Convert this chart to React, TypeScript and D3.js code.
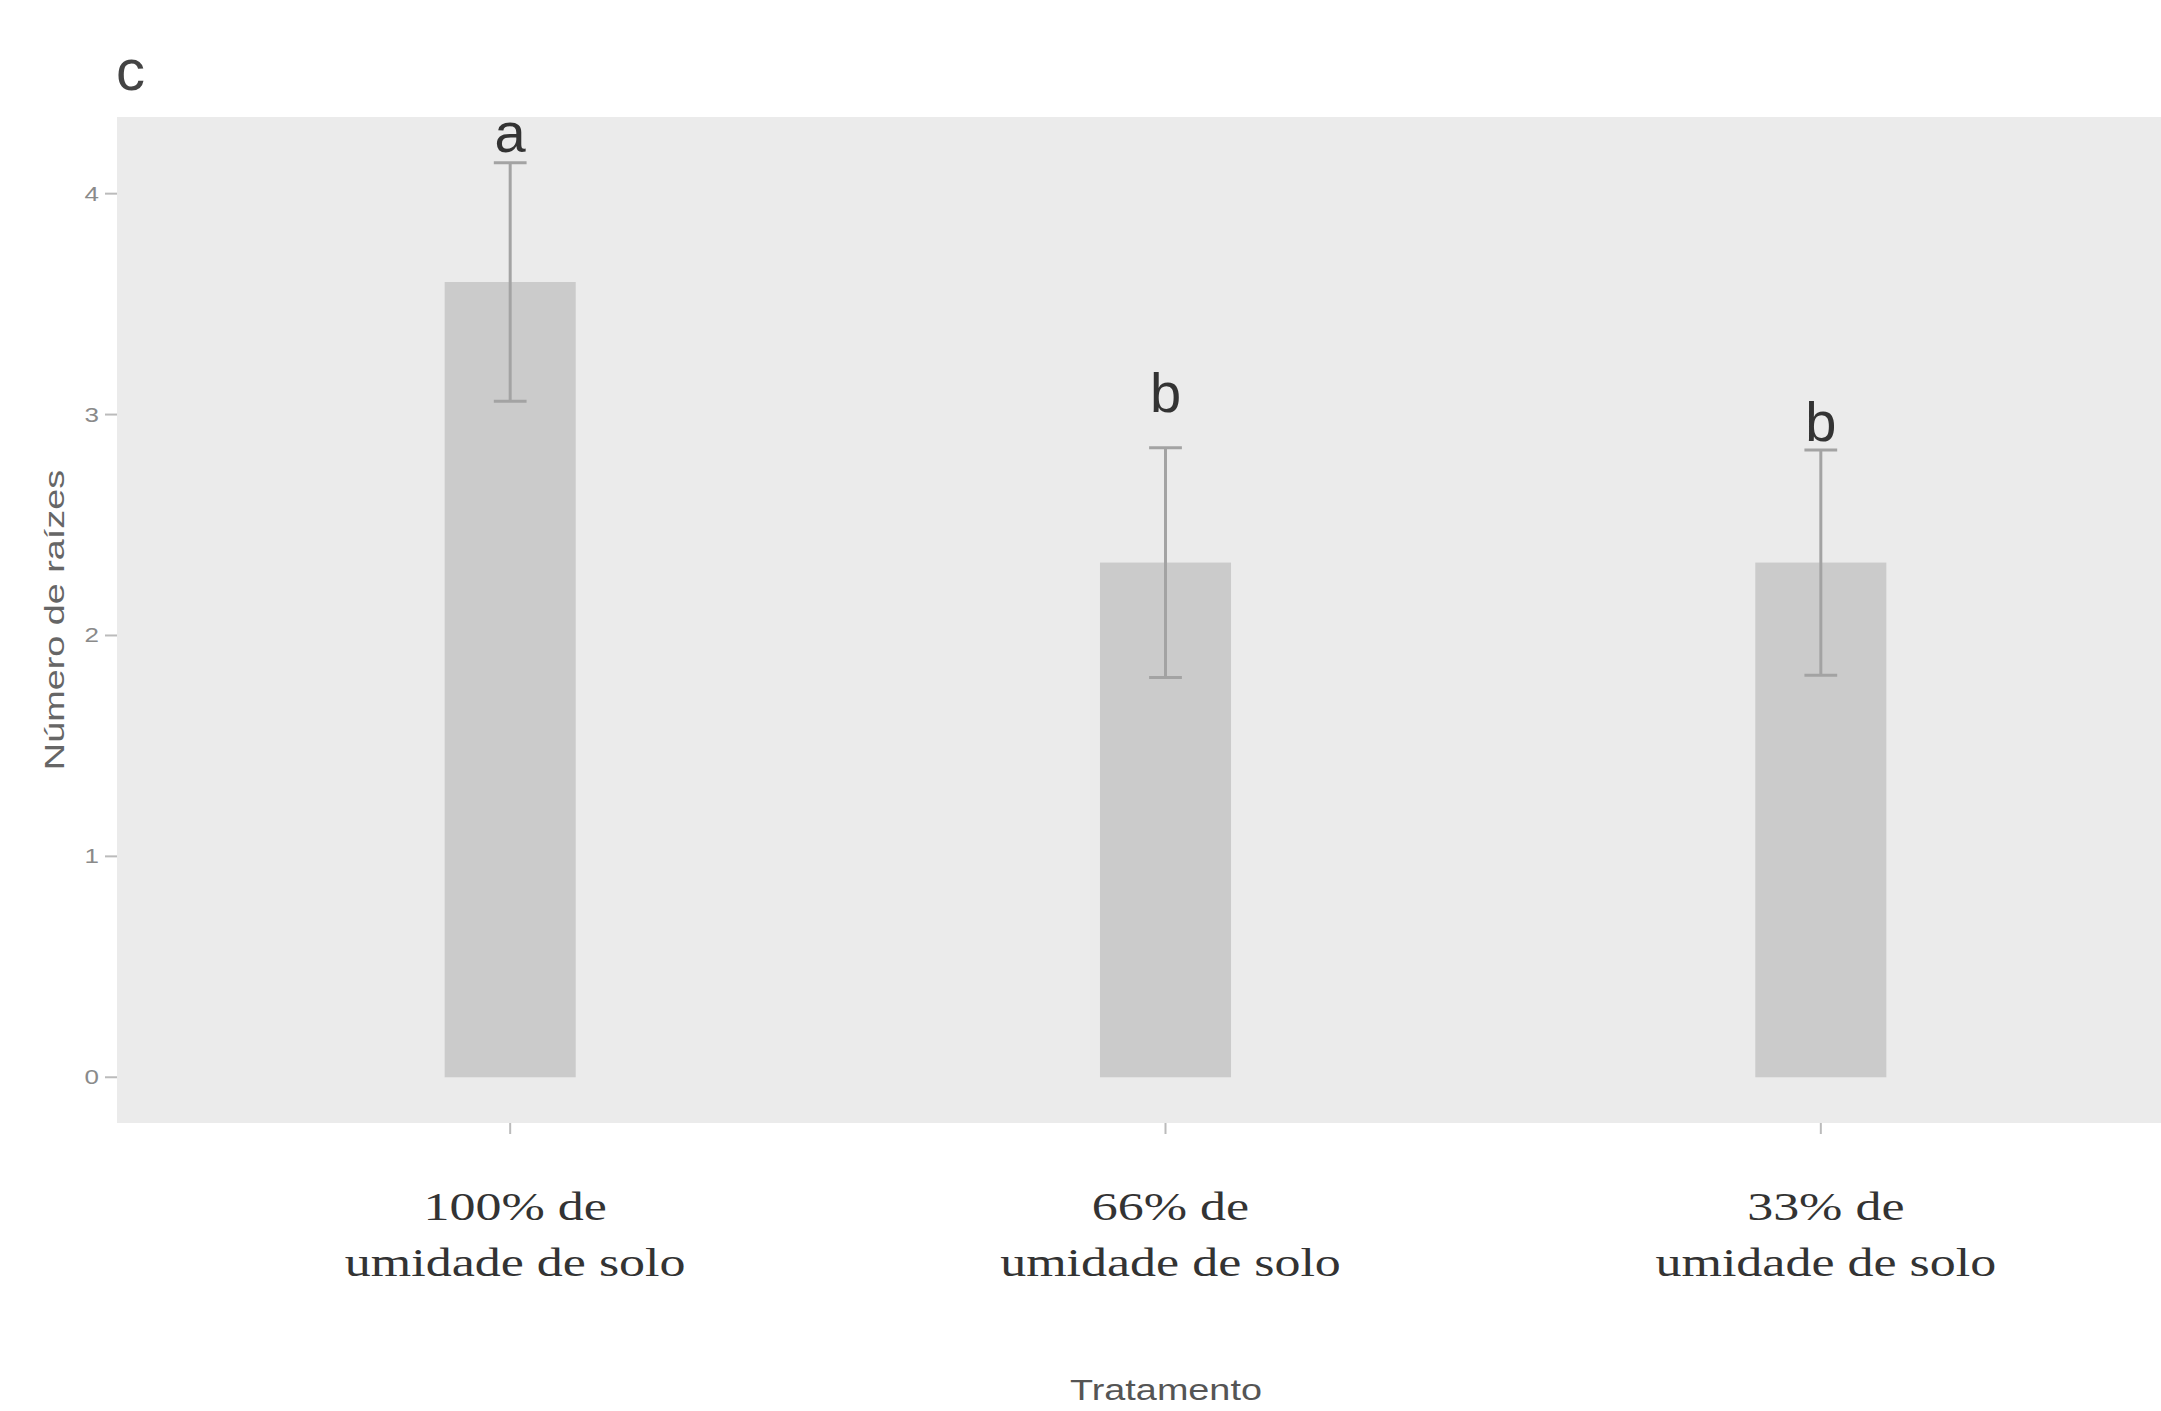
import * as d3 from 'd3';

// treatments
const catLine1 = ['100% de', '66% de', '33% de'];
const catLine2 = ['umidade de solo', 'umidade de solo', 'umidade de solo'];
const means = [3.6, 2.33, 2.33];
const errors = [0.54, 0.52, 0.51];
const letters = ['a', 'b', 'b'];
const letterPos = [4.19, 3.01, 2.88];
const yTicks = [0, 1, 2, 3, 4];

const W = 2161;
const H = 1411;
const panel = { left: 117, right: 2214, top: 117, bottom: 1123 };
const stretch = 1.3; // the original image is widened horizontally

export default function App() {
  const keys = catLine1.map((_, i) => String(i));

  const x = d3.scalePoint<string>()
    .domain(keys)
    .range([panel.left, panel.right])
    .padding(0.6);
  const step = x.step();
  const barW = step * 0.2;
  const capW = step * 0.05;

  const top = d3.max(means, (m, i) => m + errors[i]) as number;
  const pad = top * 0.05;
  const y = d3.scaleLinear()
    .domain([-pad, top + pad])
    .range([panel.bottom, panel.top]);

  const sans = 'Liberation Sans, Arial, sans-serif';
  const serif = 'Liberation Serif, Times New Roman, serif';

  return (
    <div style={{ position: 'absolute', left: 0, top: 0 }}>
      <svg width={W} height={H} style={{ display: 'block', background: '#fff' }}>
        <rect x={panel.left} y={panel.top} width={panel.right - panel.left}
          height={panel.bottom - panel.top} fill="#ebebeb" />

        {/* bars */}
        {means.map((m, i) => (
          <rect key={'b' + i} x={(x(keys[i]) as number) - barW / 2} y={y(m)}
            width={barW} height={y(0) - y(m)} fill="#cbcbcb" />
        ))}

        {/* error bars */}
        {means.map((m, i) => {
          const cx = x(keys[i]) as number;
          const y1 = y(m + errors[i]);
          const y2 = y(m - errors[i]);
          return (
            <g key={'e' + i} stroke="#a3a3a3" strokeWidth={3}>
              <line x1={cx} x2={cx} y1={y1} y2={y2} />
              <line x1={cx - capW / 2} x2={cx + capW / 2} y1={y1} y2={y1} />
              <line x1={cx - capW / 2} x2={cx + capW / 2} y1={y2} y2={y2} />
            </g>
          );
        })}

        {/* significance letters */}
        {letters.map((l, i) => (
          <text key={'l' + i} x={x(keys[i])} y={y(letterPos[i])} textAnchor="middle"
            fontFamily={sans} fontSize={56} fill="#333">{l}</text>
        ))}

        {/* y axis */}
        {yTicks.map(t => (
          <g key={'y' + t}>
            <line x1={panel.left - 12} x2={panel.left} y1={y(t)} y2={y(t)}
              stroke="#bbb" strokeWidth={2} />
            <text transform={`translate(${panel.left - 18},${y(t) + 7}) scale(${stretch},1)`}
              textAnchor="end" fontFamily={sans} fontSize={20} fill="#8a8a8a">{t}</text>
          </g>
        ))}
        <text transform={`translate(64,${(panel.top + panel.bottom) / 2}) rotate(-90) scale(${stretch + 0.05},1)`}
          textAnchor="middle" fontFamily={sans} fontSize={28} fill="#666">Número de raízes</text>

        {/* x axis */}
        {keys.map((k, i) => {
          const cx = x(k) as number;
          return (
            <g key={'x' + k}>
              <line x1={cx} x2={cx} y1={panel.bottom} y2={panel.bottom + 11}
                stroke="#bbb" strokeWidth={2} />
              <text transform={`translate(${cx + 5},1220) scale(${stretch},1)`} textAnchor="middle"
                fontFamily={serif} fontSize={40} fill="#333">{catLine1[i]}</text>
              <text transform={`translate(${cx + 5},1276) scale(${stretch},1)`} textAnchor="middle"
                fontFamily={serif} fontSize={40} fill="#333">{catLine2[i]}</text>
            </g>
          );
        })}
        <text transform={`translate(1166,1400) scale(1.26,1)`} textAnchor="middle"
          fontFamily={sans} fontSize={30} fill="#555">Tratamento</text>

        <text x={116} y={90} fontFamily={sans} fontSize={58} fill="#444">c</text>
      </svg>
    </div>
  );
}
